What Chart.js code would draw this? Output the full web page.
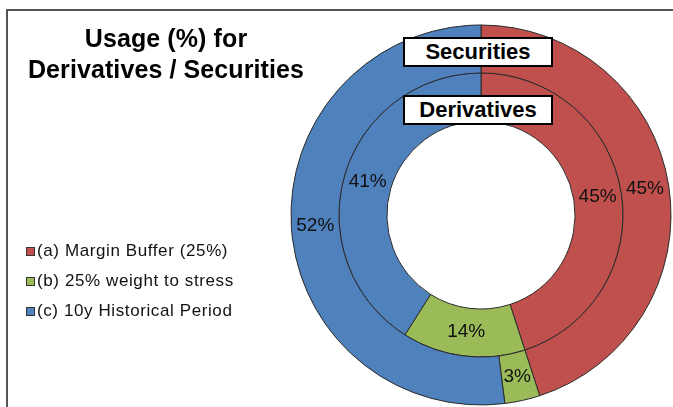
<!DOCTYPE html>
<html>
<head>
<meta charset="utf-8">
<script src="https://cdn.jsdelivr.net/npm/chart.js@4.4.1/dist/chart.umd.min.js"></script>
<style>
  html, body { margin: 0; padding: 0; background: #fff; }
  body { width: 673px; height: 407px; position: relative; overflow: hidden; font-family: 'Liberation Sans', Arial, sans-serif; }
  #frame { position: absolute; left: 6px; top: 9px; width: 700px; height: 420px; border-left: 2px solid #555; border-top: 2px solid #555; }
  #usageChart { position: absolute; left: 0; top: 0; }
  .title { position: absolute; left: 16px; top: 23px; width: 300px; text-align: center; font-weight: bold; font-size: 25px; letter-spacing: 0.1px; line-height: 31px; color: #000; }
  .legend { position: absolute; left: 26px; top: 236px; }
  .legend-row { display: flex; align-items: center; height: 30px; font-size: 17px; letter-spacing: 0.6px; color: #111; }
  .legend-row i { display: inline-block; width: 7px; height: 7px; border: 1px solid #333; margin-right: 2px; }
  .ring-tag { position: absolute; box-sizing: border-box; width: 150px; height: 30px; border: 2px solid #000; background: #fff; text-align: center; font-weight: bold; font-size: 22px; line-height: 26px; color: #000; }
</style>
</head>
<body>
<div id="frame"></div>
<canvas id="usageChart" width="673" height="407"></canvas>
<div class="title">Usage (%) for<br>Derivatives / Securities</div>
<div class="legend" id="legend"></div>
<div class="ring-tag" id="tag0" style="left:403px; top:37px;"></div>
<div class="ring-tag" id="tag1" style="left:403px; top:95px;"></div>
<script>
// componentes del uso, en el orden del anillo (sentido horario desde arriba)
const segments = ['(a) Margin Buffer (25%)', '(b) 25% weight to stress', '(c) 10y Historical Period'];
const segmentColors = ['#C0504D', '#9BBB59', '#4F81BD'];

// anillo exterior = valores, anillo interior = derivados
const ringNames = ['Securities', 'Derivatives'];
const securities = [45, 3, 52];
const derivatives = [45, 14, 41];

// etiquetas de porcentaje en el centro de cada arco
const pctLabels = {
    id: 'pctLabels',
    afterDatasetsDraw(chart) {
        const { ctx } = chart;
        ctx.save();
        ctx.font = "19px 'Liberation Sans', Arial, sans-serif";
        ctx.fillStyle = '#111';
        ctx.textAlign = 'center';
        ctx.textBaseline = 'middle';
        chart.data.datasets.forEach((ds, i) => {
            chart.getDatasetMeta(i).data.forEach((arc, j) => {
                const p = arc.tooltipPosition();
                ctx.fillText(ds.data[j] + '%', p.x, p.y);
            });
        });
        ctx.restore();
    }
};

new Chart(document.getElementById('usageChart'), {
    type: 'doughnut',
    data: {
        labels: segments,
        datasets: [
            { label: ringNames[0], data: securities },
            { label: ringNames[1], data: derivatives }
        ].map(ds => Object.assign(ds, {
            backgroundColor: segmentColors,
            borderColor: '#2a2a2a',
            borderWidth: 1
        }))
    },
    options: {
        responsive: false,
        animation: false,
        cutout: '49.5%',
        layout: { padding: { left: 290.5, top: 24.5, right: 1.5, bottom: 1.5 } },
        plugins: {
            legend: { display: false },
            tooltip: { enabled: false }
        }
    },
    plugins: [pctLabels]
});

// leyenda y rótulos de los anillos
const legend = document.getElementById('legend');
segments.forEach((name, i) => {
    const row = document.createElement('div');
    row.className = 'legend-row';
    row.innerHTML = `<i style="background:${segmentColors[i]}"></i><span>${name}</span>`;
    legend.appendChild(row);
});
ringNames.forEach((name, i) => { document.getElementById('tag' + i).textContent = name; });
</script>
</body>
</html>
